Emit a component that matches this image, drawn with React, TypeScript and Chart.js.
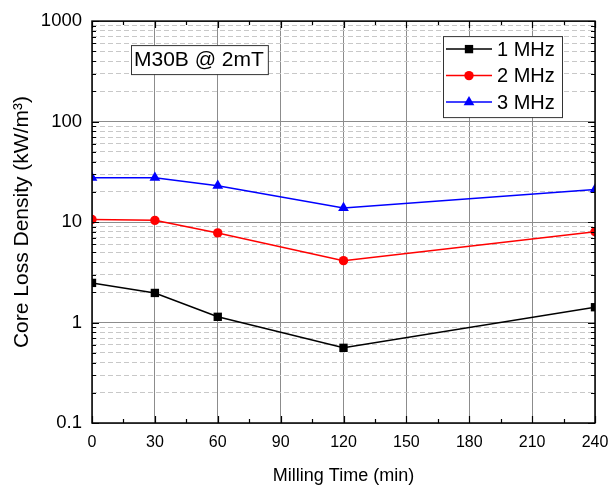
import React, { useEffect, useRef } from 'react';
import { Chart, registerables } from 'chart.js';
import { drawPoint } from 'chart.js/helpers';

Chart.register(...registerables);

const millingTime = [0, 30, 60, 120, 240];
const loss1MHz = [2.48, 1.97, 1.14, 0.56, 1.42];
const loss2MHz = [10.6, 10.4, 7.8, 4.13, 8.0];
const loss3MHz = [27.6, 27.6, 23.0, 13.8, 21.1];
const seriesLabels = ['1 MHz', '2 MHz', '3 MHz'];
const xMajorTicks = [0, 30, 60, 90, 120, 150, 180, 210, 240];
const yMajorTicks = [0.1, 1, 10, 100, 1000];
const annotationText = 'M30B @ 2mT';
const xTitle = 'Milling Time (min)';
const yTitle = 'Core Loss Density (kW/m³)';

const FONT = "'Liberation Sans', Arial, sans-serif";

const isMajor = (v: number | undefined) => {
  if (v === undefined || v === null) return false;
  const l = Math.log10(v);
  return Math.abs(l - Math.round(l)) < 1e-6;
};

const yAllTicks: number[] = (() => {
  const out: number[] = [];
  for (let i = 0; i < yMajorTicks.length - 1; i++) {
    for (let k = 1; k <= 9; k++) out.push(parseFloat((yMajorTicks[i] * k).toPrecision(4)));
  }
  out.push(yMajorTicks[yMajorTicks.length - 1]);
  return out;
})();

const xMinorTicks: number[] = xMajorTicks.slice(0, -1).map((v, i) => (v + xMajorTicks[i + 1]) / 2);

const framePlugin = {
  id: 'frameAndExtras',
  afterDatasetsDraw(chart: any) {
    const { ctx, chartArea, scales } = chart;
    const { left, right, top, bottom } = chartArea;
    const xs = scales.x;
    const ys = scales.y;
    ctx.save();
    ctx.strokeStyle = '#000';
    ctx.lineWidth = 1.2;
    ctx.setLineDash([]);
    ctx.beginPath();
    xMajorTicks.forEach((v) => {
      const px = Math.round(xs.getPixelForValue(v)) + 0.5;
      ctx.moveTo(px, bottom); ctx.lineTo(px, bottom - 7);
      ctx.moveTo(px, top); ctx.lineTo(px, top + 7);
    });
    xMinorTicks.forEach((v) => {
      const px = Math.round(xs.getPixelForValue(v)) + 0.5;
      ctx.moveTo(px, bottom); ctx.lineTo(px, bottom - 4);
      ctx.moveTo(px, top); ctx.lineTo(px, top + 4);
    });
    yAllTicks.forEach((v) => {
      const py = Math.round(ys.getPixelForValue(v)) + 0.5;
      const len = isMajor(v) ? 7 : 4;
      ctx.moveTo(left, py); ctx.lineTo(left + len, py);
      ctx.moveTo(right, py); ctx.lineTo(right - len, py);
    });
    ctx.stroke();
    ctx.lineWidth = 1.5;
    ctx.strokeRect(left, top, right - left, bottom - top);

    ctx.font = `21px ${FONT}`;
    const aw = ctx.measureText(annotationText).width;
    const ax = left + 39;
    const ay = top + 24;
    const ah = 29;
    ctx.fillStyle = '#fff';
    ctx.fillRect(ax, ay, aw + 7, ah);
    ctx.lineWidth = 1;
    ctx.strokeStyle = '#333';
    ctx.strokeRect(ax + 0.5, ay + 0.5, aw + 7, ah);
    ctx.fillStyle = '#000';
    ctx.textBaseline = 'middle';
    ctx.textAlign = 'left';
    ctx.fillText(annotationText, ax + 3, ay + ah / 2 + 1);

    const lx = right - 152;
    const ly = top + 15;
    const lw = 119;
    const lh = 81;
    ctx.fillStyle = '#fff';
    ctx.fillRect(lx, ly, lw, lh);
    ctx.strokeStyle = '#333';
    ctx.strokeRect(lx + 0.5, ly + 0.5, lw, lh);
    chart.data.datasets.forEach((ds: any, i: number) => {
      const cy = ly + 13 + i * 26.5;
      ctx.strokeStyle = ds.borderColor;
      ctx.lineWidth = 1.5;
      ctx.beginPath();
      ctx.moveTo(lx + 3, cy);
      ctx.lineTo(lx + 49, cy);
      ctx.stroke();
      ctx.fillStyle = ds.backgroundColor;
      drawPoint(ctx, { pointStyle: ds.pointStyle, radius: ds.pointRadius, borderWidth: 0, rotation: 0 } as any, lx + 26, cy);
      ctx.fillStyle = '#000';
      ctx.font = `20px ${FONT}`;
      ctx.textBaseline = 'middle';
      ctx.fillText(ds.label, lx + 54, cy + 1);
    });
    ctx.restore();
  },
};

export default function App() {
  const canvasRef = useRef<HTMLCanvasElement | null>(null);

  useEffect(() => {
    if (!canvasRef.current) return;
    const mk = (vals: number[]) => millingTime.map((x, i) => ({ x, y: vals[i] }));
    const chart = new Chart(canvasRef.current, {
      type: 'line',
      data: {
        datasets: [
          {
            label: seriesLabels[0],
            data: mk(loss1MHz),
            borderColor: '#000000',
            backgroundColor: '#000000',
            borderWidth: 1.5,
            pointStyle: 'rect',
            pointRadius: 5.9,
            pointBorderWidth: 0,
            tension: 0,
          },
          {
            label: seriesLabels[1],
            data: mk(loss2MHz),
            borderColor: '#ff0000',
            backgroundColor: '#ff0000',
            borderWidth: 1.5,
            pointStyle: 'circle',
            pointRadius: 4.7,
            pointBorderWidth: 0,
            tension: 0,
          },
          {
            label: seriesLabels[2],
            data: mk(loss3MHz),
            borderColor: '#0000ff',
            backgroundColor: '#0000ff',
            borderWidth: 1.5,
            pointStyle: 'triangle',
            pointRadius: 6.2,
            pointBorderWidth: 0,
            tension: 0,
          },
        ],
      },
      options: {
        responsive: false,
        animation: false,
        layout: { padding: { left: 0, right: 14, top: 21, bottom: 0 } },
        plugins: { legend: { display: false }, tooltip: { enabled: false } },
        scales: {
          x: {
            type: 'linear',
            min: 0,
            max: 240,
            afterBuildTicks: (scale: any) => {
              scale.ticks = xMajorTicks.map((v) => ({ value: v }));
            },
            afterFit: (scale: any) => {
              scale.height = 65;
              scale.paddingRight = 0;
              scale.paddingLeft = 0;
            },
            ticks: {
              autoSkip: false,
              maxRotation: 0,
              padding: 10,
              color: '#000',
              font: { family: FONT, size: 16 },
            },
            grid: { color: '#8c8c8c', lineWidth: 1, drawTicks: false },
            border: { display: false },
            title: {
              display: true,
              text: xTitle,
              color: '#000',
              font: { family: FONT, size: 18 },
              padding: { top: 1, bottom: 1 },
            },
          },
          y: {
            type: 'logarithmic',
            min: 0.1,
            max: 1000,
            afterBuildTicks: (scale: any) => {
              scale.ticks = yAllTicks.map((v) => ({ value: v, major: isMajor(v) }));
            },
            afterFit: (scale: any) => {
              scale.width = 92;
            },
            ticks: {
              autoSkip: false,
              padding: 10,
              color: '#000',
              font: { family: FONT, size: 18.5 },
              callback: (value: any) => (isMajor(Number(value)) ? String(Number(value)) : ''),
            },
            grid: {
              color: (ctx: any) => (isMajor(ctx.tick && ctx.tick.value) ? '#8c8c8c' : '#c8c8c8'),
              lineWidth: 1,
              drawTicks: false,
            },
            border: {
              display: false,
              dash: (ctx: any) => (ctx.tick && !isMajor(ctx.tick.value) ? [5, 3] : []),
            },
            title: {
              display: true,
              text: yTitle,
              color: '#000',
              font: { family: FONT, size: 21 },
              padding: { top: 10, bottom: 0 },
            },
          },
        },
      },
      plugins: [framePlugin],
    });
    return () => chart.destroy();
  }, []);

  return (
    <div style={{ position: 'fixed', left: 0, top: 0, width: 609, height: 488, background: '#fff' }}>
      <canvas ref={canvasRef} width={609} height={488} style={{ width: 609, height: 488, display: 'block' }} />
    </div>
  );
}
